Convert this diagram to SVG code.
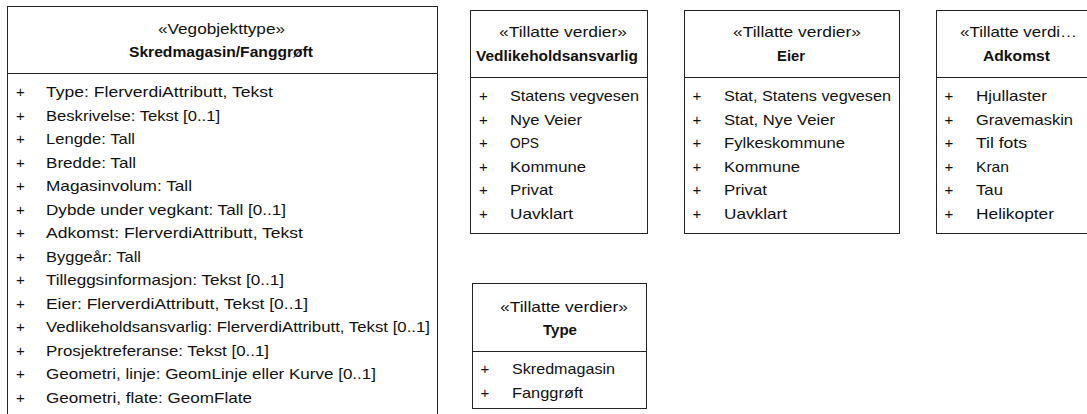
<svg xmlns="http://www.w3.org/2000/svg" width="1087" height="414" viewBox="0 0 1087 414">
<style>
.box{fill:#fff;stroke:#222;stroke-width:1}
.div{stroke:#222;stroke-width:1}
text{font-family:"Liberation Sans",Arial,sans-serif;font-size:15px;fill:#111}
.b{font-weight:bold}
.p{text-anchor:middle}
</style>
<rect width="1087" height="414" fill="#fff"/>
<g id="connectors"/>
<g id="skredmagasin">
<rect class="box" x="7.5" y="6.5" width="430" height="420"/>
<line class="div" x1="7.5" y1="73.5" x2="437.5" y2="73.5"/>
<text x="158" y="34" textLength="127" lengthAdjust="spacingAndGlyphs">«Vegobjekttype»</text>
<text class="b" x="129" y="57" textLength="184" lengthAdjust="spacingAndGlyphs">Skredmagasin/Fanggrøft</text>
<g>
<text class="p" x="20.5" y="97">+</text>
<text class="p" x="20.5" y="120.5">+</text>
<text class="p" x="20.5" y="144">+</text>
<text class="p" x="20.5" y="167.5">+</text>
<text class="p" x="20.5" y="191">+</text>
<text class="p" x="20.5" y="214.5">+</text>
<text class="p" x="20.5" y="238">+</text>
<text class="p" x="20.5" y="261.5">+</text>
<text class="p" x="20.5" y="285">+</text>
<text class="p" x="20.5" y="308.5">+</text>
<text class="p" x="20.5" y="332">+</text>
<text class="p" x="20.5" y="355.5">+</text>
<text class="p" x="20.5" y="379">+</text>
<text class="p" x="20.5" y="402.5">+</text>
</g>
<text x="46" y="97" textLength="227" lengthAdjust="spacingAndGlyphs">Type: FlerverdiAttributt, Tekst</text>
<text x="46" y="120.5" textLength="174" lengthAdjust="spacingAndGlyphs">Beskrivelse: Tekst [0..1]</text>
<text x="46" y="144" textLength="89" lengthAdjust="spacingAndGlyphs">Lengde: Tall</text>
<text x="46" y="167.5" textLength="90" lengthAdjust="spacingAndGlyphs">Bredde: Tall</text>
<text x="46" y="191" textLength="146" lengthAdjust="spacingAndGlyphs">Magasinvolum: Tall</text>
<text x="46" y="214.5" textLength="240" lengthAdjust="spacingAndGlyphs">Dybde under vegkant: Tall [0..1]</text>
<text x="46" y="238" textLength="257" lengthAdjust="spacingAndGlyphs">Adkomst: FlerverdiAttributt, Tekst</text>
<text x="46" y="261.5" textLength="95" lengthAdjust="spacingAndGlyphs">Byggeår: Tall</text>
<text x="46" y="285" textLength="238" lengthAdjust="spacingAndGlyphs">Tilleggsinformasjon: Tekst [0..1]</text>
<text x="46" y="308.5" textLength="262" lengthAdjust="spacingAndGlyphs">Eier: FlerverdiAttributt, Tekst [0..1]</text>
<text x="46" y="332" textLength="384" lengthAdjust="spacingAndGlyphs">Vedlikeholdsansvarlig: FlerverdiAttributt, Tekst [0..1]</text>
<text x="46" y="355.5" textLength="223" lengthAdjust="spacingAndGlyphs">Prosjektreferanse: Tekst [0..1]</text>
<text x="46" y="379" textLength="330" lengthAdjust="spacingAndGlyphs">Geometri, linje: GeomLinje eller Kurve [0..1]</text>
<text x="46" y="402.5" textLength="206" lengthAdjust="spacingAndGlyphs">Geometri, flate: GeomFlate</text>
</g>
<g id="vedlikeholdsansvarlig">
<rect class="box" x="470.5" y="10.5" width="177" height="223"/>
<line class="div" x1="470.5" y1="77.5" x2="647.5" y2="77.5"/>
<text x="499" y="37" textLength="128" lengthAdjust="spacingAndGlyphs">«Tillatte verdier»</text>
<text class="b" x="476" y="61" textLength="162" lengthAdjust="spacingAndGlyphs">Vedlikeholdsansvarlig</text>
<text class="p" x="483.5" y="101">+</text>
<text class="p" x="483.5" y="124.5">+</text>
<text class="p" x="483.5" y="148">+</text>
<text class="p" x="483.5" y="171.5">+</text>
<text class="p" x="483.5" y="195">+</text>
<text class="p" x="483.5" y="218.5">+</text>
<text x="510" y="101" textLength="129" lengthAdjust="spacingAndGlyphs">Statens vegvesen</text>
<text x="510" y="124.5" textLength="72" lengthAdjust="spacingAndGlyphs">Nye Veier</text>
<text x="510" y="148" textLength="29" lengthAdjust="spacingAndGlyphs">OPS</text>
<text x="510" y="171.5" textLength="76" lengthAdjust="spacingAndGlyphs">Kommune</text>
<text x="510" y="195" textLength="43" lengthAdjust="spacingAndGlyphs">Privat</text>
<text x="510" y="218.5" textLength="63" lengthAdjust="spacingAndGlyphs">Uavklart</text>
</g>
<g id="eier">
<rect class="box" x="684.5" y="10.5" width="215" height="223"/>
<line class="div" x1="684.5" y1="77.5" x2="899.5" y2="77.5"/>
<text x="733" y="37" textLength="128" lengthAdjust="spacingAndGlyphs">«Tillatte verdier»</text>
<text class="b" x="777" y="61" textLength="28" lengthAdjust="spacingAndGlyphs">Eier</text>
<text class="p" x="697" y="101">+</text>
<text class="p" x="697" y="124.5">+</text>
<text class="p" x="697" y="148">+</text>
<text class="p" x="697" y="171.5">+</text>
<text class="p" x="697" y="195">+</text>
<text class="p" x="697" y="218.5">+</text>
<text x="724" y="101" textLength="167" lengthAdjust="spacingAndGlyphs">Stat, Statens vegvesen</text>
<text x="724" y="124.5" textLength="111" lengthAdjust="spacingAndGlyphs">Stat, Nye Veier</text>
<text x="724" y="148" textLength="121" lengthAdjust="spacingAndGlyphs">Fylkeskommune</text>
<text x="724" y="171.5" textLength="76" lengthAdjust="spacingAndGlyphs">Kommune</text>
<text x="724" y="195" textLength="43" lengthAdjust="spacingAndGlyphs">Privat</text>
<text x="724" y="218.5" textLength="63" lengthAdjust="spacingAndGlyphs">Uavklart</text>
</g>
<g id="adkomst">
<rect class="box" x="936.5" y="10.5" width="200" height="223"/>
<line class="div" x1="936.5" y1="77.5" x2="1136.5" y2="77.5"/>
<text x="960" y="37" textLength="117" lengthAdjust="spacingAndGlyphs">«Tillatte verdi…</text>
<text class="b" x="983" y="61" textLength="67" lengthAdjust="spacingAndGlyphs">Adkomst</text>
<text class="p" x="949" y="101">+</text>
<text class="p" x="949" y="124.5">+</text>
<text class="p" x="949" y="148">+</text>
<text class="p" x="949" y="171.5">+</text>
<text class="p" x="949" y="195">+</text>
<text class="p" x="949" y="218.5">+</text>
<text x="976" y="101" textLength="71" lengthAdjust="spacingAndGlyphs">Hjullaster</text>
<text x="976" y="124.5" textLength="97" lengthAdjust="spacingAndGlyphs">Gravemaskin</text>
<text x="976" y="148" textLength="51" lengthAdjust="spacingAndGlyphs">Til fots</text>
<text x="976" y="171.5" textLength="33" lengthAdjust="spacingAndGlyphs">Kran</text>
<text x="976" y="195" textLength="27" lengthAdjust="spacingAndGlyphs">Tau</text>
<text x="976" y="218.5" textLength="78" lengthAdjust="spacingAndGlyphs">Helikopter</text>
</g>
<g id="type">
<rect class="box" x="472.5" y="283.5" width="174" height="125"/>
<line class="div" x1="472.5" y1="351.5" x2="646.5" y2="351.5"/>
<text x="500" y="312" textLength="128" lengthAdjust="spacingAndGlyphs">«Tillatte verdier»</text>
<text class="b" x="543" y="335" textLength="34" lengthAdjust="spacingAndGlyphs">Type</text>
<text class="p" x="485" y="374">+</text>
<text class="p" x="485" y="397.5">+</text>
<text x="512" y="374" textLength="103" lengthAdjust="spacingAndGlyphs">Skredmagasin</text>
<text x="512" y="397.5" textLength="71" lengthAdjust="spacingAndGlyphs">Fanggrøft</text>
</g>
</svg>
